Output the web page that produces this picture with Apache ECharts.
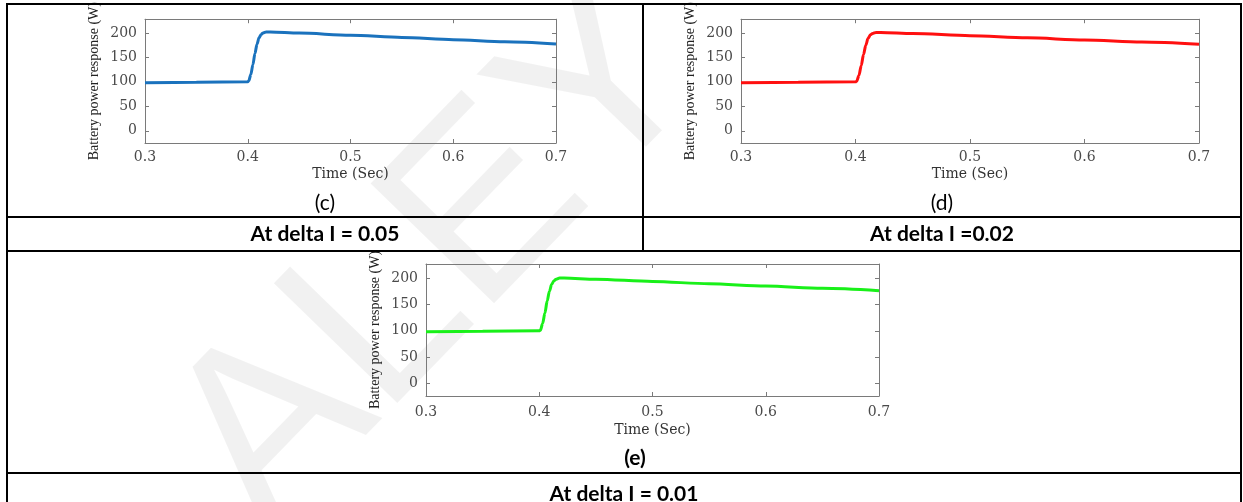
<!DOCTYPE html>
<html>
<head>
<meta charset="utf-8">
<style>
  html, body { margin: 0; padding: 0; background: #fff; }
  #main { width: 1243px; height: 502px; }
</style>
<script src="https://cdn.jsdelivr.net/npm/echarts@6/dist/echarts.min.js"></script>
</head>
<body>
<div id="main"></div>
<script>
// values
var times = [0.3, 0.35, 0.4, 0.401, 0.403, 0.405, 0.407, 0.409, 0.411, 0.413, 0.415, 0.418, 0.422, 0.45, 0.5, 0.55, 0.6, 0.65, 0.7]
var powerC = [98, 99, 100, 102, 115, 135, 158, 177, 190, 197, 200, 202, 202, 199.6, 195.2, 190.7, 186.2, 181.7, 177.2]
var powerD = [98, 99, 100, 101, 113, 133, 156, 175, 189, 196, 199, 201, 201, 198.8, 194.4, 190, 185.6, 181.2, 176.8]
var powerE = [98, 99, 100, 101, 114, 134, 157, 176, 189, 196, 199, 201, 201, 198.9, 194.5, 190.1, 185.7, 181.3, 176.9]
var yTicks = [0, 50, 100, 150, 200]
var panelLabels = ['(c)', '(d)', '(e)']
var captions = ['At delta I = 0.05', 'At delta I =0.02', 'At delta I = 0.01']

var panels = [
  { data: powerC, color: '#1a72bd', box: { left: 145, top: 16, width: 411, height: 127 }, lm: 7, ng: 24 },
  { data: powerD, color: '#ff1010', box: { left: 741, top: 17, width: 458, height: 126 }, lm: 7, ng: 24 },
  { data: powerE, color: '#19f019', box: { left: 426, top: 264, width: 453, height: 132 }, lm: 9, ng: 27 }
]

var axisColor = '#7a7a7a'
var labelFont = { fontFamily: 'DejaVu Serif', fontSize: 14, color: '#4a4a4a' }

var dom = document.getElementById('main')
var myChart = echarts.init(dom)

var grids = []
var xAxes = []
var yAxes = []
var series = []

panels.forEach(function (p, i) {
  grids.push({ left: p.box.left, top: p.box.top, width: p.box.width, height: p.box.height, containLabel: false })
  var common = {
    gridIndex: i,
    axisLine: { show: true, onZero: false, lineStyle: { color: axisColor, width: 1 } },
    axisTick: { inside: true, length: 4, lineStyle: { color: axisColor } },
    splitLine: { show: false }
  }
  xAxes.push(Object.assign({}, common, {
    type: 'value', min: 0.3, max: 0.7, interval: 0.1, position: 'bottom',
    axisLabel: Object.assign({ margin: p.lm }, labelFont),
    name: 'Time (Sec)', nameLocation: 'middle', nameGap: p.ng,
    nameTextStyle: { fontFamily: 'DejaVu Serif', fontSize: 14, color: '#333' }
  }))
  xAxes.push(Object.assign({}, common, {
    type: 'value', min: 0.3, max: 0.7, interval: 0.1, position: 'top',
    axisLabel: { show: false }
  }))
  yAxes.push(Object.assign({}, common, {
    type: 'value', min: -25, max: 228, position: 'left',
    axisTick: { inside: true, length: 4, lineStyle: { color: axisColor }, customValues: yTicks },
    axisLabel: Object.assign({ margin: 8, customValues: yTicks }, labelFont),
    name: 'Battery power response (W)', nameLocation: 'middle', nameGap: 44,
    nameTextStyle: { fontFamily: 'Liberation Serif', fontSize: 14, color: '#222' }
  }))
  yAxes.push(Object.assign({}, common, {
    type: 'value', min: -25, max: 228, position: 'right',
    axisTick: { inside: true, length: 4, lineStyle: { color: axisColor }, customValues: yTicks },
    axisLabel: { show: false }
  }))
  series.push({
    type: 'line',
    xAxisIndex: i * 2,
    yAxisIndex: i * 2,
    data: times.map(function (t, k) { return [t, p.data[k]] }),
    showSymbol: false,
    smooth: 0.3,
    smoothMonotone: 'x',
    lineStyle: { color: p.color, width: 3 },
    z: 3
  })
})

function hline(y, x1, x2) {
  return { type: 'line', shape: { x1: x1, y1: y, x2: x2, y2: y }, style: { stroke: '#000', lineWidth: 2 }, z: 20 }
}
function vline(x, y1, y2) {
  return { type: 'line', shape: { x1: x, y1: y1, x2: x, y2: y2 }, style: { stroke: '#000', lineWidth: 2 }, z: 20 }
}
function label(txt, x, y, bold) {
  return {
    type: 'text', x: x, y: y, z: 20,
    style: { text: txt, align: 'center', verticalAlign: 'middle', fill: '#000',
      font: (bold ? 'bold ' : '') + '21px Lato' }
  }
}

option = {
  animation: false,
  backgroundColor: '#fff',
  grid: grids,
  xAxis: xAxes,
  yAxis: yAxes,
  series: series,
  graphic: [
    // faint watermark
    {
      type: 'text', x: 440, y: 260, rotation: 0.8, z: 0,
      style: { text: 'ALEY', align: 'center', verticalAlign: 'middle', fill: 'rgba(0,0,0,0.055)',
        font: '250px "Liberation Sans"' }
    },
    hline(4, 6, 1242),
    hline(217, 6, 1242),
    hline(251, 6, 1242),
    hline(473, 6, 1242),
    vline(7, 3, 502),
    vline(1241, 3, 502),
    vline(643, 4, 251),
    label(panelLabels[0], 325, 203, false),
    label(panelLabels[1], 942, 203, false),
    label(panelLabels[2], 635, 458, true),
    label(captions[0], 325, 234, true),
    label(captions[1], 942, 234, true),
    label(captions[2], 624, 494, true)
  ]
}
if (option && typeof option === 'object') {
  myChart.setOption(option, true)
}
</script>
</body>
</html>
